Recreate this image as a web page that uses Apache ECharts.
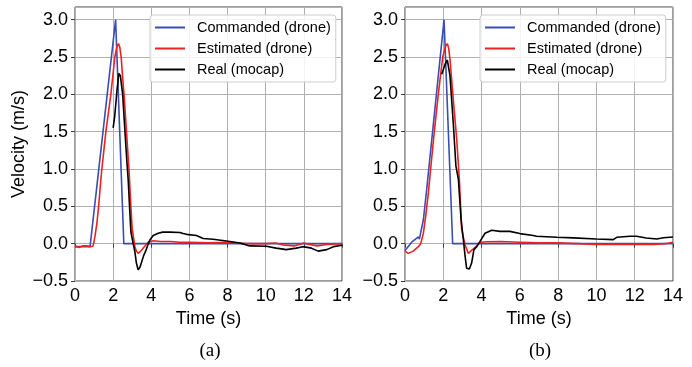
<!DOCTYPE html>
<html>
<head>
<meta charset="utf-8">
<script src="https://cdn.jsdelivr.net/npm/echarts@6/dist/echarts.min.js"></script>
<style>
  html, body { margin: 0; padding: 0; background: #fff; }
  #main { width: 692px; height: 367px; }
</style>
</head>
<body>
<div id="main"></div>
<script>
// velocity traces, [time (s), velocity (m/s)]
const cmdA = [[0, -0.04], [0.79, -0.04], [2.13, 3.0], [2.56, 0], [14, 0]];
const estA = [[0, -0.03], [0.2, -0.05], [0.4, -0.03], [0.6, -0.03], [0.8, -0.04], [0.95, -0.03],
  [1.05, 0.1], [1.15, 0.28], [1.24, 0.5], [1.32, 0.75], [1.4, 0.98], [1.62, 1.5], [1.88, 2.0],
  [2.09, 2.5], [2.2, 2.64], [2.28, 2.68], [2.35, 2.63], [2.42, 2.5], [2.5, 2.22], [2.57, 2.0], [2.7, 1.5],
  [2.83, 1.0], [2.93, 0.5], [3.0, 0.2], [3.14, -0.04], [3.22, -0.1], [3.31, -0.13], [3.45, -0.1],
  [3.6, -0.05], [3.84, 0.02], [4.1, 0.04], [4.5, 0.03], [5.0, 0.03], [5.5, 0.02], [6.0, 0.02],
  [7.0, 0.01], [8.0, 0.02], [9.0, 0.0], [10.0, 0.0], [10.5, 0.01], [11.0, -0.02], [11.5, -0.03],
  [12.0, 0.01], [12.05, 0.03], [12.3, -0.01], [12.7, -0.03], [13.2, -0.01], [14.0, 0.0]];
const realA = [[2.0, 1.55], [2.08, 1.7], [2.2, 2.05], [2.3, 2.28], [2.38, 2.25], [2.45, 2.1],
  [2.5, 2.0], [2.62, 1.5], [2.72, 1.1], [2.79, 0.85], [2.87, 0.45], [2.93, 0.16], [3.05, 0.0],
  [3.14, -0.11], [3.22, -0.26], [3.31, -0.35], [3.4, -0.32], [3.49, -0.25], [3.6, -0.16],
  [3.72, -0.09], [3.84, 0.0], [3.93, 0.05], [4.1, 0.11], [4.36, 0.14], [4.6, 0.155], [4.97, 0.155],
  [5.5, 0.15], [5.67, 0.135], [5.85, 0.125], [6.37, 0.11], [6.72, 0.07], [7.24, 0.06],
  [7.94, 0.035], [8.64, 0.01], [9.16, -0.03], [10.03, -0.035], [10.55, -0.06], [11.08, -0.08],
  [11.6, -0.06], [11.95, -0.04], [12.4, -0.06], [12.75, -0.1], [13.2, -0.08], [13.55, -0.04],
  [14.0, -0.02]];

const cmdB = [[0, -0.09], [0.35, 0.02], [0.7, 0.09], [0.75, 0.06], [0.96, 0.32], [1.13, 0.72],
  [2.04, 3.0], [2.49, 0], [14, 0]];
const estB = [[0, -0.1], [0.17, -0.13], [0.43, -0.1], [0.7, -0.04], [0.82, 0.0], [0.96, 0.14],
  [1.1, 0.41], [1.22, 0.68], [1.34, 1.0], [1.53, 1.5], [1.74, 2.0], [1.97, 2.5], [2.13, 2.65],
  [2.21, 2.68], [2.28, 2.62], [2.35, 2.47], [2.52, 1.94], [2.7, 1.4], [2.84, 0.86], [2.96, 0.19],
  [3.13, -0.01], [3.31, -0.13], [3.48, -0.09], [3.71, -0.04], [3.92, 0.02], [4.27, 0.025],
  [5.0, 0.03], [6.0, 0.02], [7.0, 0.01], [8.0, 0.01], [9.0, 0.0], [10.0, -0.01], [11.0, -0.01],
  [12.0, -0.01], [13.0, -0.01], [13.6, 0.0], [14.0, 0.02]];
const realB = [[1.92, 2.27], [2.09, 2.4], [2.21, 2.46], [2.35, 2.25], [2.52, 1.62], [2.66, 1.04],
  [2.79, 0.86], [2.93, 0.32], [3.05, 0.05], [3.14, -0.17], [3.22, -0.33], [3.36, -0.34],
  [3.48, -0.26], [3.6, -0.08], [3.75, -0.04], [3.92, 0.03], [4.18, 0.14], [4.53, 0.18],
  [4.96, 0.165], [5.48, 0.165], [6.0, 0.135], [6.7, 0.11], [6.87, 0.1], [7.92, 0.085],
  [8.8, 0.077], [10.0, 0.063], [10.88, 0.054], [11.06, 0.085], [11.76, 0.1], [12.1, 0.1],
  [12.6, 0.075], [13.15, 0.063], [13.5, 0.08], [14.0, 0.09]];

const names = ['Commanded (drone)', 'Estimated (drone)', 'Real (mocap)'];
const colors = ['#3a4db0', '#f02020', '#000000'];
const captions = ['(a)', '(b)'];

const font = 'Liberation Sans';
const frame = '#3c3c3c';

var chartDom = document.getElementById('main');
var myChart = echarts.init(chartDom, null, { renderer: 'canvas' });

const grids = [
  { left: 75, top: 7, width: 267, height: 274 },
  { left: 405, top: 7, width: 268, height: 274 }
];

function xAxisFor(i) {
  return {
    gridIndex: i,
    type: 'value',
    min: 0,
    max: 14,
    interval: 2,
    name: 'Time (s)',
    nameLocation: 'middle',
    nameGap: 29,
    nameTextStyle: { fontFamily: font, fontSize: 18, color: '#000' },
    axisLine: { show: false },
    axisTick: { show: true, length: 4, lineStyle: { color: frame } },
    axisLabel: { fontFamily: font, fontSize: 18, color: '#000', margin: 6 },
    splitLine: { show: true, lineStyle: { color: '#b0b0b0', width: 1 } }
  };
}
function yAxisFor(i) {
  return {
    gridIndex: i,
    type: 'value',
    min: -0.5,
    max: 3.17,
    interval: 0.5,
    name: i == 0 ? 'Velocity (m/s)' : '',
    nameLocation: 'middle',
    nameGap: 47,
    nameTextStyle: { fontFamily: font, fontSize: 18, color: '#000' },
    axisLine: { show: false },
    axisTick: { show: true, length: 4, lineStyle: { color: frame } },
    axisLabel: {
      fontFamily: font, fontSize: 18, color: '#000', margin: 7,
      showMaxLabel: false,
      formatter: v => (v < 0 ? '\u2212' + Math.abs(v).toFixed(1) : v.toFixed(1))
    },
    splitLine: { show: true, lineStyle: { color: '#b0b0b0', width: 1 } }
  };
}

function legendFor(i, left) {
  return {
    data: names.map((n, k) => ({ name: n, icon: 'rect', itemStyle: { color: colors[k] } })),
    orient: 'vertical',
    left: left,
    top: 15,
    itemWidth: 30,
    itemHeight: 2,
    itemGap: 6,
    padding: [5, 5, 5, 5],
    backgroundColor: 'rgba(255,255,255,0.85)',
    borderColor: '#cccccc',
    borderWidth: 1,
    borderRadius: 3,
    selectedMode: false,
    textStyle: { fontFamily: font, fontSize: 14.5, color: '#000', lineHeight: 15, padding: [0, 0, 0, 7] }
  };
}

function lineSeries(name, data, idx, k) {
  return {
    name: name,
    type: 'line',
    xAxisIndex: idx,
    yAxisIndex: idx,
    data: data,
    showSymbol: false,
    symbol: 'none',
    smooth: false,
    animation: false,
    lineStyle: { color: colors[k], width: 1.6 },
    itemStyle: { color: colors[k] },
    z: 3 + k
  };
}

const option = {
  backgroundColor: '#fff',
  animation: false,
  grid: grids.map(g => Object.assign({ show: true, borderColor: frame, borderWidth: 1, backgroundColor: 'transparent' }, g)),
  xAxis: [xAxisFor(0), xAxisFor(1)],
  yAxis: [yAxisFor(0), yAxisFor(1)],
  legend: [legendFor(0, 150), legendFor(1, 480)],
  series: [
    lineSeries(names[0], cmdA, 0, 0),
    lineSeries(names[1], estA, 0, 1),
    lineSeries(names[2], realA, 0, 2),
    lineSeries(names[0], cmdB, 1, 0),
    lineSeries(names[1], estB, 1, 1),
    lineSeries(names[2], realB, 1, 2)
  ],
  graphic: [
    { type: 'text', x: 210, y: 351, style: { text: captions[0], font: '19px "Liberation Serif"', fill: '#000', textAlign: 'center', textVerticalAlign: 'middle' } },
    { type: 'text', x: 540, y: 351, style: { text: captions[1], font: '19px "Liberation Serif"', fill: '#000', textAlign: 'center', textVerticalAlign: 'middle' } }
  ]
};

option && myChart.setOption(option);
</script>
</body>
</html>
